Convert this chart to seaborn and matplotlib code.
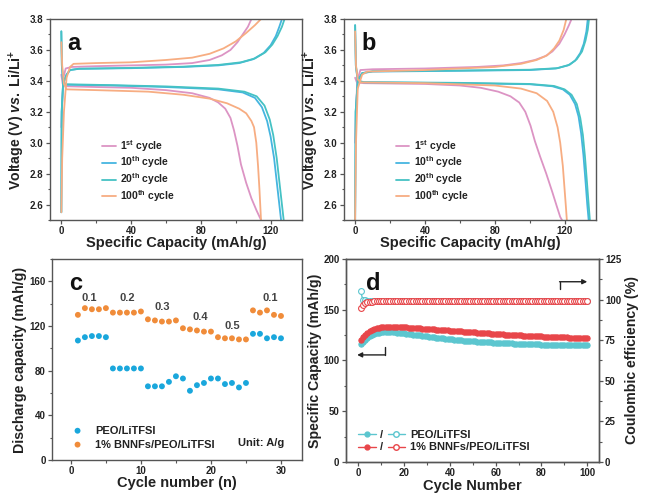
import matplotlib
matplotlib.use('Agg')
import matplotlib.pyplot as plt
import seaborn as sns
from matplotlib.lines import Line2D
from matplotlib.ticker import AutoMinorLocator

sns.set_theme(style='ticks')
plt.rcParams['font.family'] = ['Liberation Sans', 'DejaVu Sans']
plt.rcParams['font.weight'] = 'bold'
plt.rcParams['axes.labelweight'] = 'bold'
plt.rcParams['mathtext.fontset'] = 'custom'
plt.rcParams['mathtext.rm'] = 'Liberation Sans:bold'
plt.rcParams['mathtext.it'] = 'Liberation Sans:italic:bold'
plt.rcParams['mathtext.bf'] = 'Liberation Sans:bold'
plt.rcParams['mathtext.default'] = 'rm'

# ---- panel a : charge / discharge curves, PEO/LiTFSI  (capacity, voltage)
a_1st_charge = [(0, 3.10), (0.5, 3.25), (1.2, 3.42), (2.5, 3.48), (6, 3.49), (20, 3.495), (40, 3.50),
                (60, 3.505), (75, 3.515), (85, 3.535), (92, 3.565), (97, 3.60), (101, 3.65), (104, 3.70),
                (107, 3.75), (109, 3.80)]
a_1st_discharge = [(0, 3.44), (0.8, 3.38), (3, 3.365), (20, 3.36), (40, 3.355), (60, 3.34), (75, 3.32),
                   (85, 3.29), (90, 3.26), (94, 3.22), (97, 3.16), (99, 3.08), (101, 2.98), (103, 2.86),
                   (106, 2.74), (109, 2.64), (112, 2.56), (114.5, 2.50)]
a_10_charge = [(0, 2.55), (0.2, 3.2), (1, 3.38), (3, 3.44), (5, 3.47), (10, 3.478), (40, 3.482), (70, 3.49),
               (90, 3.50), (102, 3.515), (110, 3.54), (116, 3.58), (120, 3.63), (123, 3.69), (125, 3.75),
               (126.5, 3.80)]
a_10_discharge = [(0, 3.72), (0.3, 3.50), (1, 3.39), (3, 3.375), (30, 3.37), (60, 3.36), (90, 3.345),
                  (104, 3.325), (111, 3.29), (115, 3.23), (118, 3.14), (120, 3.04), (122, 2.90),
                  (123.5, 2.75), (125, 2.60), (126, 2.50)]
a_20_charge = [(0, 2.55), (0.2, 3.2), (1, 3.38), (3, 3.44), (5, 3.47), (10, 3.478), (40, 3.484), (70, 3.492),
               (90, 3.503), (103, 3.52), (111, 3.545), (117, 3.585), (121, 3.635), (124, 3.69),
               (126.5, 3.75), (128, 3.80)]
a_20_discharge = [(0, 3.72), (0.3, 3.50), (1, 3.39), (3, 3.378), (30, 3.372), (60, 3.364), (90, 3.35),
                  (105, 3.33), (112, 3.30), (116.5, 3.24), (119.5, 3.15), (121.5, 3.05), (123.5, 2.90),
                  (125, 2.75), (126.5, 2.60), (127.5, 2.50)]
a_100_charge = [(0, 2.55), (0.5, 2.9), (1.5, 3.2), (3, 3.42), (5, 3.49), (7, 3.51), (20, 3.515), (40, 3.52),
                (60, 3.535), (75, 3.55), (85, 3.575), (93, 3.61), (100, 3.655), (106, 3.71), (111, 3.76),
                (114.5, 3.80)]
a_100_discharge = [(0, 3.65), (0.5, 3.50), (1.5, 3.38), (3, 3.345), (20, 3.34), (50, 3.33), (70, 3.31),
                   (85, 3.285), (95, 3.255), (102, 3.22), (106, 3.19), (109, 3.14), (110.5, 3.10),
                   (111.8, 3.0), (112.8, 2.85), (113.6, 2.70), (114.5, 2.50)]

# ---- panel b : 1% BNNFs/PEO/LiTFSI
b_1st_charge = [(0, 3.00), (0.5, 3.20), (1.2, 3.40), (3, 3.47), (10, 3.475), (40, 3.48), (70, 3.49),
                (85, 3.50), (95, 3.515), (103, 3.535), (109, 3.56), (113, 3.59), (117, 3.64), (120, 3.70),
                (122.5, 3.76), (124, 3.80)]
b_1st_discharge = [(0, 3.42), (1, 3.39), (5, 3.385), (40, 3.38), (60, 3.37), (72, 3.355), (82, 3.33),
                   (89, 3.30), (94, 3.26), (97.5, 3.20), (100.5, 3.11), (103, 3.01), (106, 2.91),
                   (109.5, 2.80), (113, 2.68), (115.5, 2.59), (117.5, 2.52), (118.5, 2.50)]
b_10_charge = [(0, 2.50), (0.3, 3.20), (1.5, 3.40), (4, 3.45), (10, 3.46), (60, 3.465), (100, 3.47),
               (115, 3.48), (122, 3.50), (126, 3.53), (129, 3.58), (131, 3.64), (132.5, 3.72), (133.3, 3.80)]
b_10_discharge = [(0, 3.76), (0.4, 3.50), (1.5, 3.40), (5, 3.39), (60, 3.385), (100, 3.378), (113, 3.365),
                  (119, 3.345), (123, 3.31), (126, 3.25), (128, 3.17), (129.5, 3.06), (130.8, 2.92),
                  (132, 2.75), (133, 2.60), (133.8, 2.50)]
b_20_charge = [(0, 2.50), (0.3, 3.20), (1.5, 3.40), (4, 3.45), (10, 3.462), (60, 3.467), (100, 3.472),
               (116, 3.482), (123, 3.505), (127, 3.54), (130, 3.59), (132, 3.66), (133.3, 3.73), (134, 3.80)]
b_20_discharge = [(0, 3.76), (0.4, 3.50), (1.5, 3.40), (5, 3.392), (60, 3.387), (100, 3.38), (114, 3.367),
                  (120, 3.345), (124, 3.31), (127, 3.25), (129, 3.16), (130.5, 3.05), (131.7, 2.91),
                  (132.8, 2.75), (133.8, 2.60), (134.5, 2.50)]
b_100_charge = [(0, 2.50), (0.5, 3.00), (1.5, 3.35), (4, 3.44), (7, 3.46), (40, 3.47), (80, 3.49),
                (95, 3.51), (104, 3.535), (110, 3.565), (114, 3.61), (117, 3.66), (119.5, 3.73), (121, 3.80)]
b_100_discharge = [(0, 3.72), (0.5, 3.50), (1.5, 3.41), (3, 3.39), (40, 3.385), (80, 3.37), (95, 3.35),
                   (104, 3.32), (110, 3.27), (113.5, 3.20), (116, 3.10), (117.5, 3.00), (119, 2.85),
                   (120, 2.70), (120.8, 2.58), (121.3, 2.50)]

cycle_labels = ['1$^{st}$ cycle', '10$^{th}$ cycle', '20$^{th}$ cycle', '100$^{th}$ cycle']
cycle_colors = ['#dc94c4', '#45b5e0', '#45c2c4', '#f7ad82']

# ---- panel c : rate performance
c_cycles = list(range(1, 31))
c_peo = [107, 110, 111, 111, 110, 82, 82, 82, 82, 82, 66, 66, 66, 70, 75, 73, 62, 67, 69, 73,
         73, 68, 69, 65, 69, 113, 113, 109, 110, 109]
c_bnnf = [130, 136, 135, 135, 136, 132, 132, 132, 132, 133, 126, 125, 124, 124, 125, 118, 117, 116, 115, 115,
          110, 109, 109, 108, 108, 134, 132, 134, 130, 129]
c_rates = ['0.1', '0.2', '0.3', '0.4', '0.5', '0.1']
c_rate_pos = [(2.6, 145), (8.0, 145), (13.0, 137), (18.5, 128), (23.0, 120), (28.4, 145)]

# ---- panel d : long cycling
d_cycles = list(range(1, 101))
d_peo_cap = [116.5, 118.6, 120.6, 122.3, 123.8, 125.0, 126.0, 126.8, 127.4, 127.8,
             128.0, 128.1, 128.1, 128.0, 127.9, 127.7, 127.5, 127.3, 127.0, 126.8,
             126.5, 126.2, 125.9, 125.6, 125.3, 125.0, 124.7, 124.4, 124.1, 123.8,
             123.5, 123.2, 122.9, 122.6, 122.3, 122.0, 121.8, 121.5, 121.3, 121.0,
             120.8, 120.6, 120.3, 120.1, 119.9, 119.7, 119.5, 119.3, 119.1, 118.9,
             118.8, 118.6, 118.5, 118.3, 118.2, 118.0, 117.9, 117.8, 117.6, 117.5,
             117.4, 117.3, 117.2, 117.1, 117.0, 116.9, 116.8, 116.7, 116.6, 116.5,
             116.4, 116.3, 116.2, 116.2, 116.1, 116.0, 115.9, 115.9, 115.8, 115.7,
             115.7, 115.6, 115.6, 115.5, 115.5, 115.4, 115.4, 115.3, 115.3, 115.3,
             115.2, 115.2, 115.1, 115.1, 115.1, 115.0, 115.0, 114.9, 114.9, 114.9]
d_bnnf_cap = [120.0, 123.0, 125.5, 127.5, 129.0, 130.2, 131.0, 131.7, 132.2, 132.6,
              132.9, 133.1, 133.2, 133.3, 133.3, 133.2, 133.1, 133.0, 132.9, 132.8,
              132.6, 132.5, 132.3, 132.2, 132.0, 131.8, 131.7, 131.5, 131.3, 131.2,
              131.0, 130.8, 130.6, 130.5, 130.3, 130.1, 129.9, 129.8, 129.6, 129.4,
              129.2, 129.1, 128.9, 128.7, 128.6, 128.4, 128.2, 128.1, 127.9, 127.7,
              127.6, 127.4, 127.3, 127.1, 126.9, 126.8, 126.6, 126.5, 126.3, 126.2,
              126.0, 125.9, 125.7, 125.6, 125.5, 125.3, 125.2, 125.1, 124.9, 124.8,
              124.7, 124.6, 124.4, 124.3, 124.2, 124.1, 124.0, 123.9, 123.8, 123.7,
              123.6, 123.5, 123.4, 123.3, 123.2, 123.1, 123.0, 122.9, 122.9, 122.8,
              122.7, 122.6, 122.5, 122.5, 122.4, 122.3, 122.2, 122.2, 122.1, 122.0]
d_peo_ce = [105.3, 99.7, 99.5, 99.4, 99.4, 99.3, 99.4, 99.3, 99.3, 99.4,
            99.3, 99.3, 99.4, 99.3, 99.2, 99.3, 99.3, 99.4, 99.3, 99.3,
            99.2, 99.3, 99.3, 99.3, 99.4, 99.3, 99.2, 99.3, 99.3, 99.3,
            99.3, 99.4, 99.3, 99.3, 99.2, 99.3, 99.3, 99.3, 99.4, 99.3,
            99.3, 99.2, 99.3, 99.3, 99.3, 99.3, 99.4, 99.3, 99.2, 99.3,
            99.3, 99.3, 99.3, 99.4, 99.3, 99.3, 99.2, 99.3, 99.3, 99.3,
            99.4, 99.3, 99.3, 99.2, 99.3, 99.3, 99.3, 99.4, 99.3, 99.3,
            99.2, 99.3, 99.3, 99.3, 99.3, 99.4, 99.3, 99.2, 99.3, 99.3,
            99.3, 99.3, 99.4, 99.3, 99.3, 99.2, 99.3, 99.3, 99.3, 99.3,
            99.4, 99.3, 99.3, 99.2, 99.3, 99.3, 99.3, 99.3, 99.4, 99.3]
d_bnnf_ce = [94.6, 96.6, 97.7, 98.3, 98.6, 98.8, 98.9, 98.9, 99.0, 99.0,
             98.9, 99.0, 99.0, 99.1, 99.0, 98.9, 99.0, 99.0, 99.0, 99.1,
             99.0, 98.9, 99.0, 99.0, 99.0, 99.1, 99.0, 99.0, 98.9, 99.0,
             99.0, 99.0, 99.1, 99.0, 99.0, 98.9, 99.0, 99.0, 99.0, 99.1,
             99.0, 99.0, 98.9, 99.0, 99.0, 99.0, 99.1, 99.0, 99.0, 98.9,
             99.0, 99.0, 99.0, 99.1, 99.0, 99.0, 98.9, 99.0, 99.0, 99.0,
             99.1, 99.0, 99.0, 98.9, 99.0, 99.0, 99.0, 99.1, 99.0, 99.0,
             98.9, 99.0, 99.0, 99.0, 99.1, 99.0, 99.0, 98.9, 99.0, 99.0,
             99.0, 99.1, 99.0, 99.0, 98.9, 99.0, 99.0, 99.0, 99.1, 99.0,
             99.0, 98.9, 99.0, 99.0, 99.0, 99.1, 99.0, 99.0, 98.9, 99.0]

TXT = '#222222'
SPINE = '#555555'
TEAL = '#5cc6cf'
RED = '#e8464a'


def style_axis(ax, tick_size=7):
    for s in ax.spines.values():
        s.set_visible(True)
        s.set_color(SPINE)
        s.set_linewidth(1.0)
    ax.xaxis.set_minor_locator(AutoMinorLocator(2))
    ax.yaxis.set_minor_locator(AutoMinorLocator(2))
    ax.tick_params(which='major', direction='out', length=3, width=0.9, color=SPINE,
                   labelsize=tick_size, labelcolor=TXT, pad=1.5)
    ax.tick_params(which='minor', direction='out', length=1.8, width=0.8, color=SPINE)
    for lab in ax.get_xticklabels() + ax.get_yticklabels():
        lab.set_fontweight('bold')


def draw_curves(ax, curves, letter):
    for (charge, discharge), lab, col in zip(curves, cycle_labels, cycle_colors):
        sns.lineplot(x=[p[0] for p in charge], y=[p[1] for p in charge], sort=False,
                     color=col, lw=1.3, ax=ax, label=lab)
        sns.lineplot(x=[p[0] for p in discharge], y=[p[1] for p in discharge], sort=False,
                     color=col, lw=1.3, ax=ax)
    ax.set_xlim(-6.5, 138)
    ax.set_ylim(2.5, 3.8)
    ax.set_xticks([0, 40, 80, 120])
    ax.set_yticks([2.6, 2.8, 3.0, 3.2, 3.4, 3.6, 3.8])
    ax.set_xlabel('Specific Capacity (mAh/g)', fontsize=10.5, color=TXT, labelpad=0)
    ax.set_ylabel(r'Voltage (V) $\it{vs.}$ Li/Li$^{+}$', fontsize=10.2, color=TXT, labelpad=2)
    ax.legend(loc='upper left', bbox_to_anchor=(0.19, 0.43), frameon=False, fontsize=7.5,
              handlelength=1.3, handletextpad=0.4, labelspacing=0.1, borderaxespad=0)
    for t in ax.get_legend().get_texts():
        t.set_color(TXT)
    ax.text(0.07, 0.88, letter, transform=ax.transAxes, fontsize=17, fontweight='bold',
            color='#111111', va='center')
    style_axis(ax)


fig = plt.figure(figsize=(6.45, 4.94), dpi=100)
ax_a = fig.add_axes([0.0775, 0.5547, 0.3907, 0.4068])
ax_b = fig.add_axes([0.533, 0.5547, 0.391, 0.4068])
ax_c = fig.add_axes([0.0806, 0.0688, 0.3876, 0.4069])
ax_d = fig.add_axes([0.536, 0.0648, 0.3922, 0.4109])

draw_curves(ax_a, [(a_1st_charge, a_1st_discharge), (a_10_charge, a_10_discharge),
                   (a_20_charge, a_20_discharge), (a_100_charge, a_100_discharge)], 'a')
draw_curves(ax_b, [(b_1st_charge, b_1st_discharge), (b_10_charge, b_10_discharge),
                   (b_20_charge, b_20_discharge), (b_100_charge, b_100_discharge)], 'b')

# ---- panel c
sns.scatterplot(x=c_cycles, y=c_peo, ax=ax_c, color='#1aa7dc', s=18, edgecolor='none',
                label='PEO/LiTFSI')
sns.scatterplot(x=c_cycles, y=c_bnnf, ax=ax_c, color='#f08c3a', s=18, edgecolor='none',
                label='1% BNNFs/PEO/LiTFSI')
for r, (x, y) in zip(c_rates, c_rate_pos):
    ax_c.text(x, y, r, ha='center', va='center', fontsize=8, fontweight='bold', color='#444444')
ax_c.text(0.93, 0.085, 'Unit: A/g', transform=ax_c.transAxes, ha='right', va='center',
          fontsize=8, fontweight='bold', color=TXT)
ax_c.set_xlim(-2.7, 33)
ax_c.set_ylim(0, 180)
ax_c.set_xticks([0, 10, 20, 30])
ax_c.set_yticks([0, 40, 80, 120, 160])
ax_c.set_xlabel('Cycle number (n)', fontsize=10.5, color=TXT, labelpad=0)
ax_c.set_ylabel('Discharge capacity (mAh/g)', fontsize=10.2, color=TXT, labelpad=2)
leg = ax_c.legend(loc='lower left', bbox_to_anchor=(0.04, 0.03), frameon=False, fontsize=8,
                  handletextpad=0.6, labelspacing=0.35, borderaxespad=0)
for t in leg.get_texts():
    t.set_color(TXT)
ax_c.text(0.07, 0.88, 'c', transform=ax_c.transAxes, fontsize=17, fontweight='bold',
          color='#111111', va='center')
style_axis(ax_c)

# ---- panel d
ax_r = ax_d.twinx()
sns.lineplot(x=d_cycles, y=d_peo_cap, ax=ax_d, color=TEAL, lw=1, marker='o', markersize=3.8,
             markeredgecolor=TEAL)
sns.lineplot(x=d_cycles, y=d_bnnf_cap, ax=ax_d, color=RED, lw=1, marker='o', markersize=3.8,
             markeredgecolor=RED)
sns.lineplot(x=d_cycles, y=d_peo_ce, ax=ax_r, color=TEAL, lw=1, marker='o', markersize=4.2,
             markerfacecolor='white', markeredgecolor=TEAL, markeredgewidth=0.8)
sns.lineplot(x=d_cycles, y=d_bnnf_ce, ax=ax_r, color=RED, lw=1, marker='o', markersize=4.2,
             markerfacecolor='white', markeredgecolor=RED, markeredgewidth=0.8)
ax_d.set_xlim(-5.5, 105)
ax_d.set_ylim(0, 200)
ax_r.set_ylim(0, 125)
ax_d.set_xticks([0, 20, 40, 60, 80, 100])
ax_d.set_yticks([0, 50, 100, 150, 200])
ax_r.set_yticks([0, 25, 50, 75, 100, 125])
ax_d.set_xlabel('Cycle Number', fontsize=10.5, color=TXT, labelpad=0.5)
ax_d.set_ylabel('Specific Capacity (mAh/g)', fontsize=10.2, color=TXT, labelpad=1)
ax_r.set_ylabel('Coulombic efficiency (%)', fontsize=10.2, color=TXT, labelpad=3)

# direction arrows
ax_d.plot([11.5, 11.5], [113, 105.5], color='#222222', lw=1)
ax_d.annotate('', xy=(-0.5, 105.5), xytext=(11.6, 105.5),
              arrowprops=dict(arrowstyle='-|>', color='#222222', lw=1, mutation_scale=7,
                              shrinkA=0, shrinkB=0))
ax_r.plot([88, 88], [106.5, 111], color='#222222', lw=1)
ax_r.annotate('', xy=(100, 111), xytext=(87.9, 111),
              arrowprops=dict(arrowstyle='-|>', color='#222222', lw=1, mutation_scale=7,
                              shrinkA=0, shrinkB=0))

h1 = Line2D([], [], color=TEAL, lw=1, marker='o', markersize=3.5)
h2 = Line2D([], [], color=RED, lw=1, marker='o', markersize=3.5)
h3 = Line2D([], [], color=TEAL, lw=1, marker='o', markersize=4, markerfacecolor='white')
h4 = Line2D([], [], color=RED, lw=1, marker='o', markersize=4, markerfacecolor='white')
leg = ax_r.legend([h1, h2, h3, h4], ['/', '/', 'PEO/LiTFSI', '1% BNNFs/PEO/LiTFSI'], ncol=2,
                  loc='lower left', bbox_to_anchor=(0.03, 0.025), frameon=False, fontsize=8,
                  handlelength=1.6, handletextpad=0.4, columnspacing=0.4, labelspacing=0.25,
                  borderaxespad=0)
for t in leg.get_texts():
    t.set_color(TXT)
ax_d.text(0.08, 0.88, 'd', transform=ax_d.transAxes, fontsize=17, fontweight='bold',
          color='#111111', va='center')
style_axis(ax_d)
style_axis(ax_r)
ax_r.tick_params(axis='x', which='both', top=False)

fig.savefig('out.png', dpi=100)
